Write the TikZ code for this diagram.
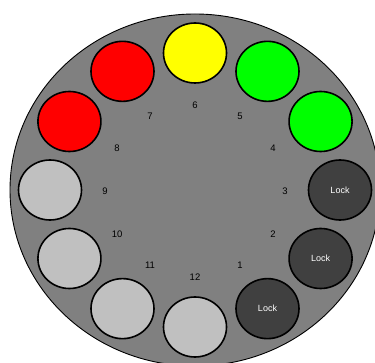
\documentclass[tikz,border=0pt]{standalone}
\usepackage{fontspec}
\setmainfont{Liberation Sans}
\usetikzlibrary{shapes.geometric,calc}
\definecolor{bggray}{HTML}{808080}
\definecolor{lgray}{HTML}{C0C0C0}
\definecolor{dgray}{HTML}{404040}
\definecolor{pred}{HTML}{FF0000}
\definecolor{pyel}{HTML}{FFFF00}
\definecolor{pgrn}{HTML}{00FF00}
\begin{document}
\begin{tikzpicture}[x=1pt,y=-1pt,
  slot/.style={draw=black,line width=1.6pt,ellipse,minimum width=63pt,minimum height=60pt,inner sep=0pt},
  num/.style={font=\fontsize{9.5}{10}\selectfont,text=black,inner sep=0pt},
  locktxt/.style={font=\fontsize{9}{10}\selectfont,text=white}]
\useasboundingbox (0,0) rectangle (375,363);
\clip (0,0) rectangle (375,363);
\fill[white] (0,0) rectangle (375,363);
\draw[fill=bggray,draw=black,line width=0.9pt] (195,190) ellipse [x radius=185,y radius=176];
\coordinate (c) at (195,190);
\foreach \k/\col in {1/dgray,2/dgray,3/dgray,4/pgrn,5/pgrn,6/pyel,7/pred,8/pred,9/lgray,10/lgray,11/lgray,12/lgray}{
  \pgfmathsetmacro{\ang}{90+(\k-6)*30}
  \node[slot,fill=\col] (s\k) at ($(c)+({145*cos(\ang)},{-137*sin(\ang)})$) {};
  \node[num] (n\k) at ($(195,191)+({90*cos(\ang)},{-86*sin(\ang)})$) {\k};
}
\node[locktxt] (l1) at (s1) {Lock};
\node[locktxt] (l2) at (s2) {Lock};
\node[locktxt] (l3) at (s3) {Lock};
\end{tikzpicture}
\end{document}
